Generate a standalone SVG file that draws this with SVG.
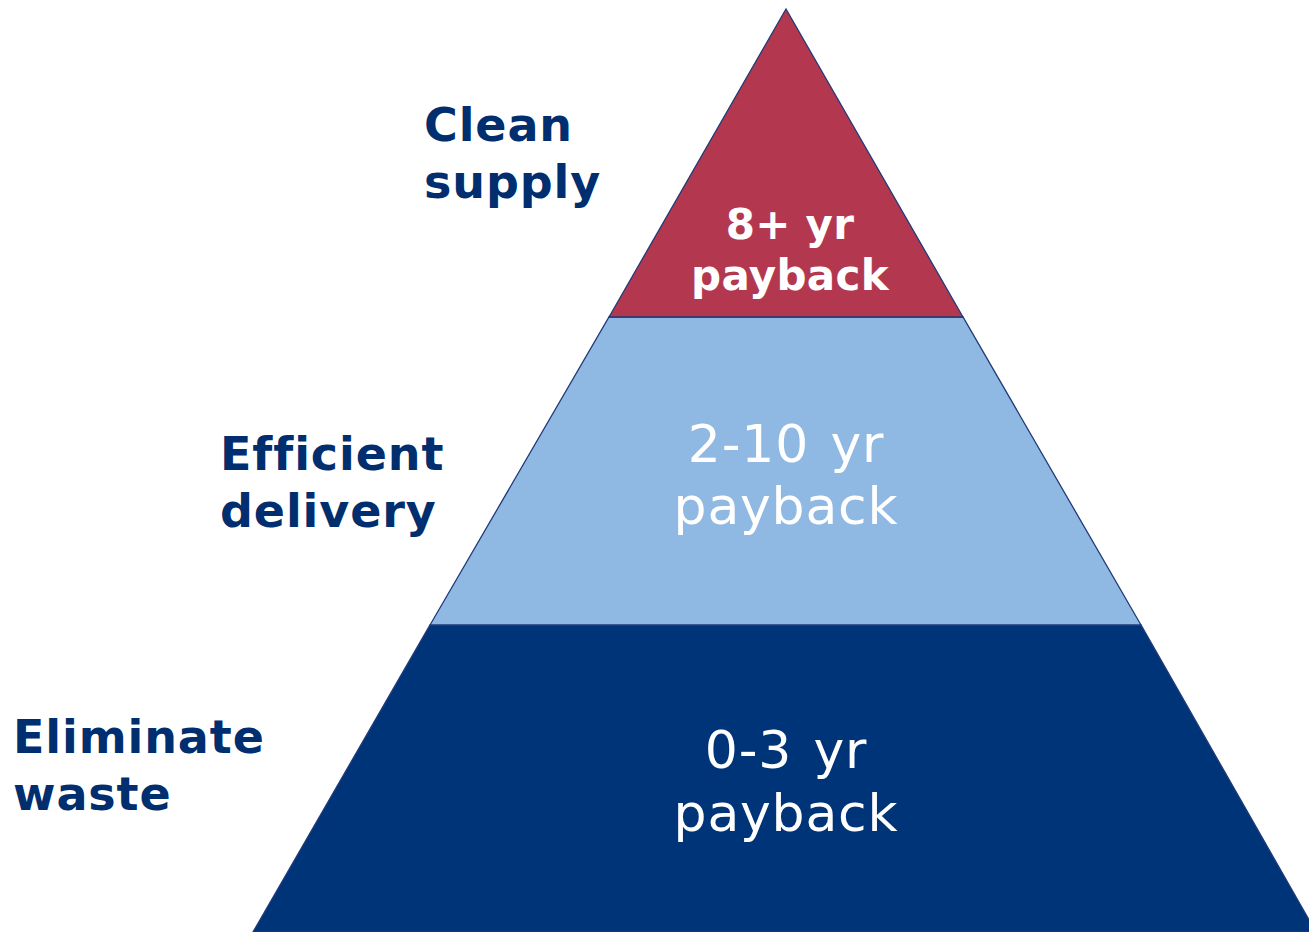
<svg xmlns="http://www.w3.org/2000/svg" width="1309" height="932" viewBox="0 0 1309 932">
<style>
.tier{stroke:#203a78;stroke-width:1.3}
.lbl{font-family:"DejaVu Sans",Verdana,sans-serif;font-weight:bold;font-size:46px;fill:#002e6e;letter-spacing:0.9px;font-variant-ligatures:none}
.inb{font-family:"DejaVu Sans",Verdana,sans-serif;font-weight:bold;font-size:42px;fill:#ffffff;text-anchor:middle;letter-spacing:0.3px}
.inr{font-family:"DejaVu Sans",Verdana,sans-serif;font-size:52px;fill:#ffffff;text-anchor:middle;letter-spacing:0.8px;word-spacing:4px}
</style>
<rect width="1309" height="932" fill="#ffffff"/>
<g id="tier-bottom">
<polygon class="tier" points="430,625 1141,625 1316,932 253,932" fill="#003478"/>
<text class="inr" x="786" y="768">0-3 yr</text>
<text class="inr" x="786" y="831">payback</text>
</g>
<g id="tier-middle">
<polygon class="tier" points="609,317 963,317 1141,625 430,625" fill="#8fb9e3"/>
<text class="inr" x="786" y="462">2-10 yr</text>
<text class="inr" x="786" y="524">payback</text>
</g>
<g id="tier-top">
<polygon class="tier" points="786,9 963,317 609,317" fill="#b3384f"/>
<text class="inb" x="790" y="239">8+ yr</text>
<text class="inb" x="790" y="290">payback</text>
</g>
<g id="label-clean">
<text class="lbl" x="424" y="141">Clean</text>
<text class="lbl" x="424" y="198">supply</text>
</g>
<g id="label-efficient">
<text class="lbl" x="220" y="470">Efficient</text>
<text class="lbl" x="220" y="527">delivery</text>
</g>
<g id="label-eliminate">
<text class="lbl" x="13" y="753">Eliminate</text>
<text class="lbl" x="13" y="810">waste</text>
</g>
<g id="connectors"/>
</svg>
